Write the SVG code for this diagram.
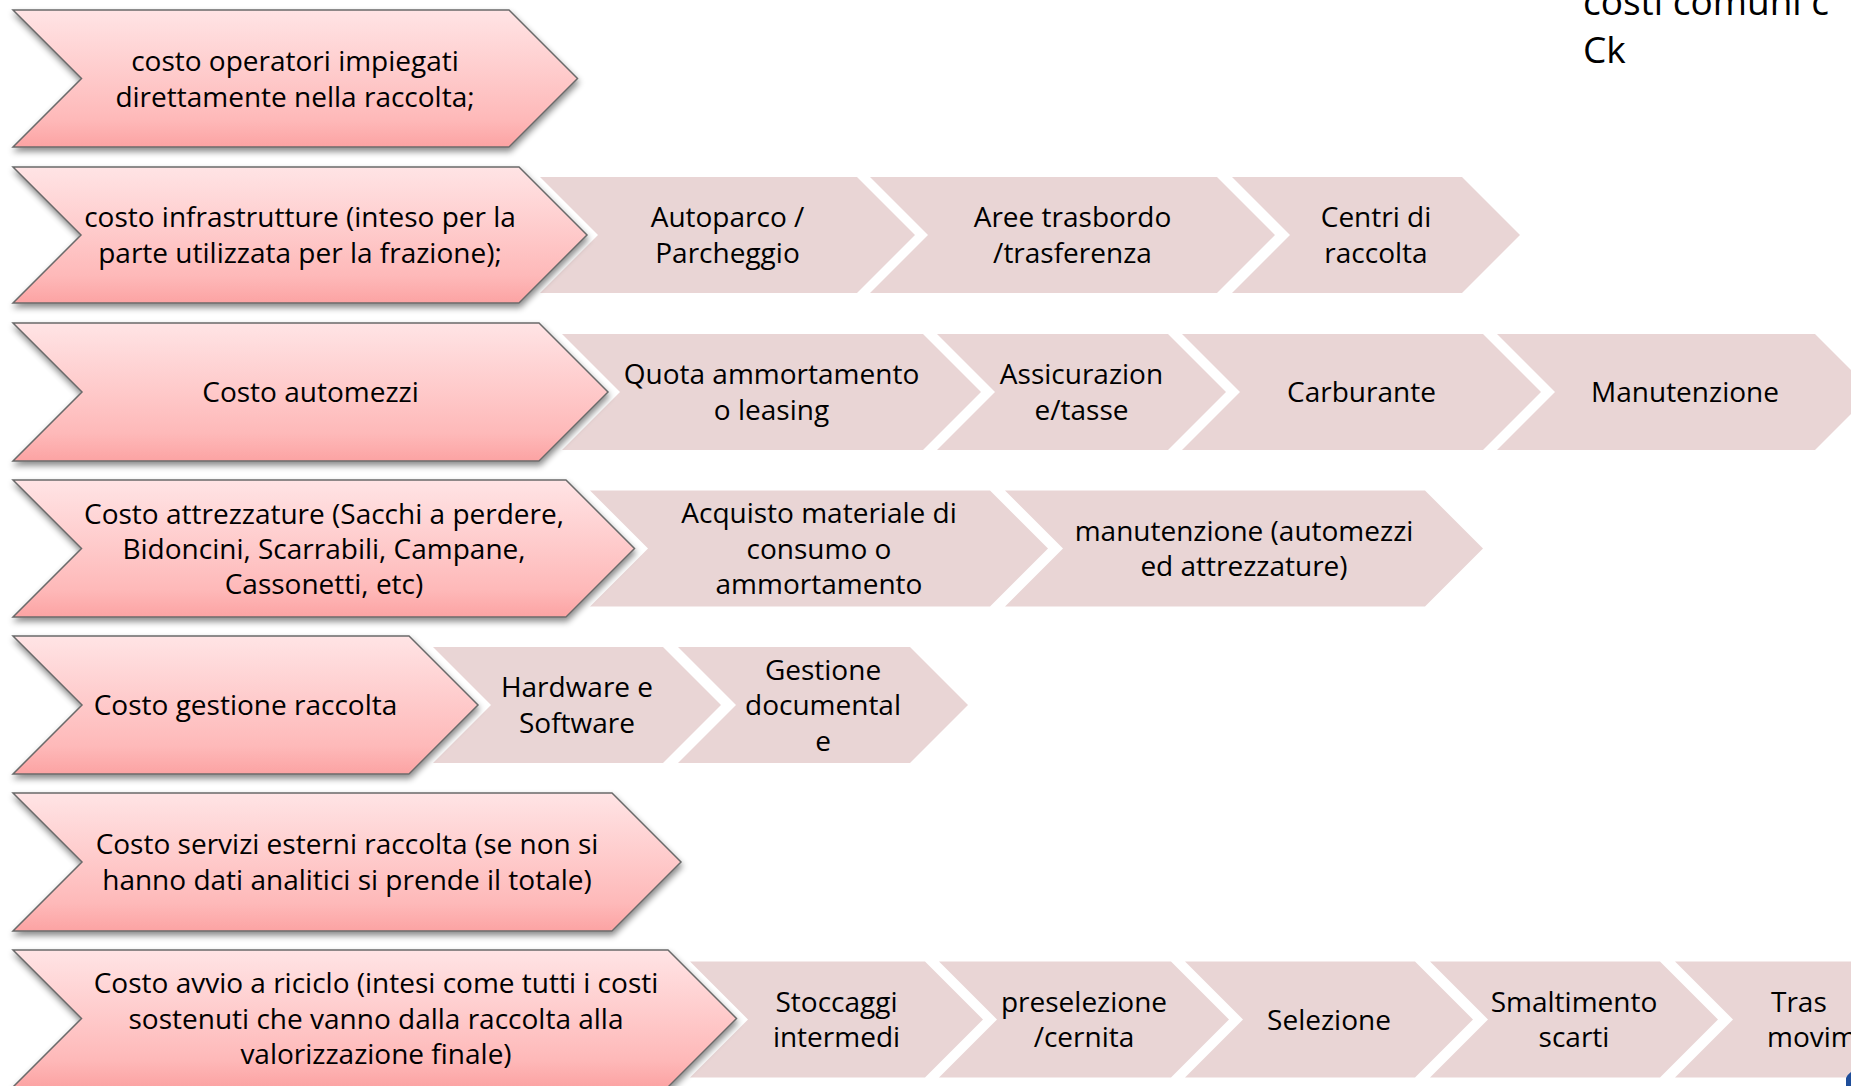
<svg xmlns="http://www.w3.org/2000/svg" width="1851" height="1086" viewBox="0 0 1851 1086">
<defs>
<style>
.main{fill:url(#pg);stroke:#6a6a6a;stroke-width:1.5;filter:url(#sh)}
.sec{fill:#E9D5D5}
.t{font-family:"Open Sans","Liberation Sans",sans-serif;font-size:28px;fill:#000;text-anchor:middle}
.big{font-family:"Open Sans","Liberation Sans",sans-serif;font-size:37px;fill:#000}
</style>
<linearGradient id="pg" x1="0" y1="0" x2="0" y2="1">
<stop offset="0" stop-color="#FFE4E5"/>
<stop offset="0.8" stop-color="#FEB9B9"/>
<stop offset="1" stop-color="#FCA3A3"/>
</linearGradient>
<filter id="sh" x="-5%" y="-10%" width="115%" height="130%">
<feDropShadow dx="1" dy="4" stdDeviation="3" flood-color="#000" flood-opacity="0.45"/>
</filter>
</defs>
<rect width="1851" height="1086" fill="#fff"/>
<g id="connectors"/>

<g id="title-text">
<text class="big" x="1583" y="15">costi comuni c</text>
<text class="big" x="1583" y="63">Ck</text>
</g>

<!-- Row 1 -->
<g id="row1-main">
<polygon class="main" points="13,10 509,10 577.5,78.5 509,147 13,147 81.5,78.5"/>
<text class="t" x="295" y="70.5">costo operatori impiegati</text>
<text class="t" x="295" y="106.5">direttamente nella raccolta;</text>
</g>

<!-- Row 2 -->
<g id="row2-a">
<polygon class="sec" points="540,177 857,177 915,235 857,293 540,293 598,235"/>
<text class="t" x="727.5" y="227.25">Autoparco /</text>
<text class="t" x="727.5" y="262.75">Parcheggio</text>
</g>
<g id="row2-b">
<polygon class="sec" points="870,177 1217,177 1275,235 1217,293 870,293 928,235"/>
<text class="t" x="1072.5" y="227.25">Aree trasbordo</text>
<text class="t" x="1072.5" y="262.75">/trasferenza</text>
</g>
<g id="row2-c">
<polygon class="sec" points="1232,177 1462,177 1520,235 1462,293 1232,293 1290,235"/>
<text class="t" x="1376" y="227.25">Centri di</text>
<text class="t" x="1376" y="262.75">raccolta</text>
</g>
<g id="row2-main">
<polygon class="main" points="13,167 519,167 587,235 519,303 13,303 81,235"/>
<text class="t" x="300" y="227">costo infrastrutture (inteso per la</text>
<text class="t" x="300" y="263">parte utilizzata per la frazione);</text>
</g>

<!-- Row 3 -->
<g id="row3-a">
<polygon class="sec" points="562,334 923,334 981,392 923,450 562,450 620,392"/>
<text class="t" x="771.5" y="384.25">Quota ammortamento</text>
<text class="t" x="771.5" y="419.75">o leasing</text>
</g>
<g id="row3-b">
<polygon class="sec" points="937,334 1168,334 1226,392 1168,450 937,450 995,392"/>
<text class="t" x="1081.5" y="384.25">Assicurazion</text>
<text class="t" x="1081.5" y="419.75">e/tasse</text>
</g>
<g id="row3-c">
<polygon class="sec" points="1182,334 1483,334 1541,392 1483,450 1182,450 1240,392"/>
<text class="t" x="1361.5" y="402">Carburante</text>
</g>
<g id="row3-d">
<polygon class="sec" points="1497,334 1815,334 1873,392 1815,450 1497,450 1555,392"/>
<text class="t" x="1685" y="402">Manutenzione</text>
</g>
<g id="row3-main">
<polygon class="main" points="13,323 539,323 608,392 539,461 13,461 82,392"/>
<text class="t" x="310.5" y="402">Costo automezzi</text>
</g>

<!-- Row 4 -->
<g id="row4-a">
<polygon class="sec" points="590,490.5 990,490.5 1048,548.5 990,606.5 590,606.5 648,548.5"/>
<text class="t" x="819" y="523">Acquisto materiale di</text>
<text class="t" x="819" y="558.5">consumo o</text>
<text class="t" x="819" y="594">ammortamento</text>
</g>
<g id="row4-b">
<polygon class="sec" points="1005,490.5 1425,490.5 1483,548.5 1425,606.5 1005,606.5 1063,548.5"/>
<text class="t" x="1244" y="540.75">manutenzione (automezzi</text>
<text class="t" x="1244" y="576.25">ed attrezzature)</text>
</g>
<g id="row4-main">
<polygon class="main" points="13,480 566,480 634.5,548.5 566,617 13,617 81.5,548.5"/>
<text class="t" x="324" y="523.5">Costo attrezzature (Sacchi a perdere,</text>
<text class="t" x="324" y="558.5">Bidoncini, Scarrabili, Campane,</text>
<text class="t" x="324" y="593.5">Cassonetti, etc)</text>
</g>

<!-- Row 5 -->
<g id="row5-a">
<polygon class="sec" points="433,647 663,647 721,705 663,763 433,763 491,705"/>
<text class="t" x="577" y="697.25">Hardware e</text>
<text class="t" x="577" y="732.75">Software</text>
</g>
<g id="row5-b">
<polygon class="sec" points="678,647 910,647 968,705 910,763 678,763 736,705"/>
<text class="t" x="823" y="679.5">Gestione</text>
<text class="t" x="823" y="715">documental</text>
<text class="t" x="823" y="750.5">e</text>
</g>
<g id="row5-main">
<polygon class="main" points="13,636 409,636 478,705 409,774 13,774 82,705"/>
<text class="t" x="245.5" y="715">Costo gestione raccolta</text>
</g>

<!-- Row 6 -->
<g id="row6-main">
<polygon class="main" points="13,793 612,793 681,862 612,931 13,931 82,862"/>
<text class="t" x="347" y="854">Costo servizi esterni raccolta (se non si</text>
<text class="t" x="347" y="890">hanno dati analitici si prende il totale)</text>
</g>

<!-- Row 7 -->
<g id="row7-a">
<polygon class="sec" points="690,961.5 925,961.5 983,1019.5 925,1077.5 690,1077.5 748,1019.5"/>
<text class="t" x="836.5" y="1011.75">Stoccaggi</text>
<text class="t" x="836.5" y="1047.25">intermedi</text>
</g>
<g id="row7-b">
<polygon class="sec" points="939,961.5 1171,961.5 1229,1019.5 1171,1077.5 939,1077.5 997,1019.5"/>
<text class="t" x="1084" y="1011.75">preselezione</text>
<text class="t" x="1084" y="1047.25">/cernita</text>
</g>
<g id="row7-c">
<polygon class="sec" points="1185,961.5 1415,961.5 1473,1019.5 1415,1077.5 1185,1077.5 1243,1019.5"/>
<text class="t" x="1329" y="1029.5">Selezione</text>
</g>
<g id="row7-d">
<polygon class="sec" points="1430,961.5 1660,961.5 1718,1019.5 1660,1077.5 1430,1077.5 1488,1019.5"/>
<text class="t" x="1574" y="1011.75">Smaltimento</text>
<text class="t" x="1574" y="1047.25">scarti</text>
</g>
<g id="row7-e">
<polygon class="sec" points="1675,961.5 1905,961.5 1963,1019.5 1905,1077.5 1675,1077.5 1733,1019.5"/>
<text class="t" x="1771" y="1011.75" style="text-anchor:start">Tras</text>
<text class="t" x="1767" y="1047.25" style="text-anchor:start">movim</text>
</g>
<g id="row7-main">
<polygon class="main" points="13,950 668,950 736.5,1018.5 668,1087 13,1087 81.5,1018.5"/>
<text class="t" x="376" y="993">Costo avvio a riciclo (intesi come tutti i costi</text>
<text class="t" x="376" y="1028.5">sostenuti che vanno dalla raccolta alla</text>
<text class="t" x="376" y="1064">valorizzazione finale)</text>
</g>

<g id="corner-mark">
<path d="M1846,1086 L1846,1078 Q1848,1074 1851,1072 L1851,1086 Z" fill="#1F4E9A"/>
</g>
</svg>
